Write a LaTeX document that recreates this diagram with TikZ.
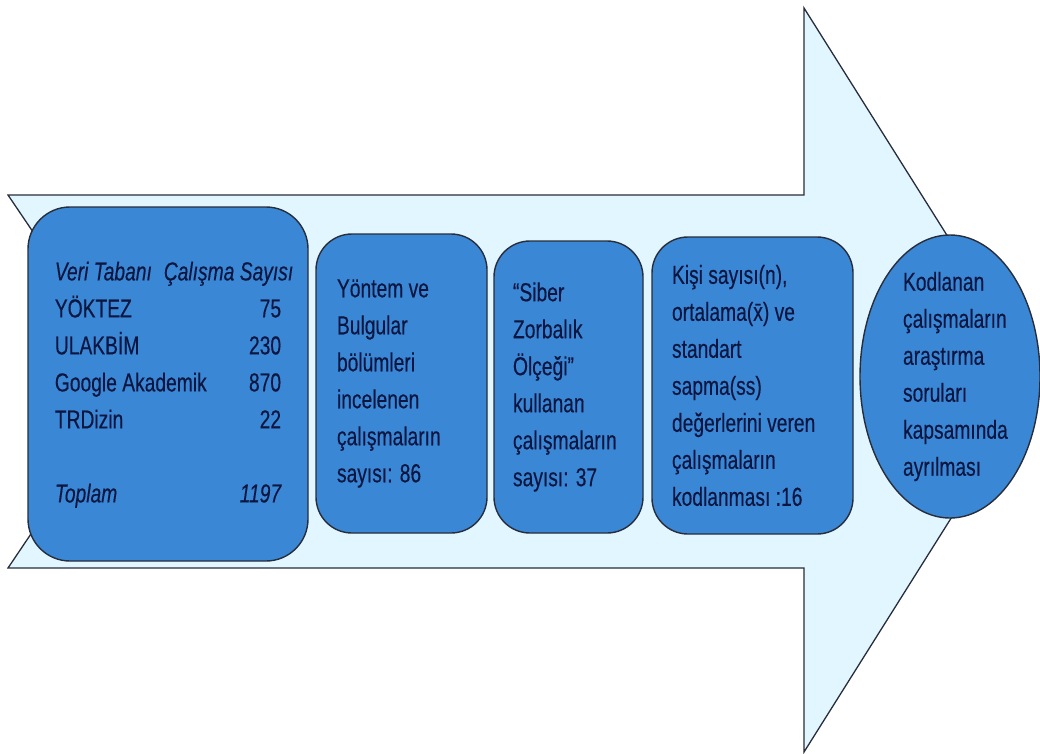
\documentclass[tikz,border=0pt]{standalone}
\usepackage{fontspec}
\setmainfont{Liberation Sans}[FakeStretch=0.74,FakeBold=0.3]
\usepackage{tikz}
\usetikzlibrary{shapes.geometric}
\definecolor{arrowfill}{RGB}{225,246,255}
\definecolor{boxfill}{RGB}{58,135,214}
\definecolor{boxtext}{RGB}{12,22,64}
\definecolor{edge}{RGB}{40,45,60}
\tikzset{
  stagetext/.style={text=boxtext,align=flush left,font=\fontsize{26}{37}\selectfont},
  stage/.style={stagetext,draw=edge,line width=1.4pt,fill=boxfill},
  stagebox/.style={stage,rounded corners=36pt},
}

\begin{document}
\begin{tikzpicture}[x=1pt,y=-1pt]
\useasboundingbox (0,0) rectangle (1040,753);
% big arrow behind the stages
\draw[draw=edge,line width=1.3pt,fill=arrowfill] (8,195) -- (804,195) -- (804,8) -- (1038,380)
  -- (804,752) -- (804,568) -- (8,568) -- (134,381) -- cycle;

\node (DB) [stagebox,rounded corners=42pt,minimum width=280pt,minimum height=354pt] at (168,384) {%
  \begin{tabular}{@{}l@{\hspace{33pt}}r@{}}
  \multicolumn{2}{@{}l@{}}{\makebox[0pt][l]{\itshape Veri Tabanı\hspace{12pt}Çalışma Sayısı}}\\
  YÖKTEZ & 75\\
  ULAKBİM & 230\\
  Google Akademik & 870\\
  TRDizin & 22\\
  & \\
  \itshape Toplam & \itshape 1197
  \end{tabular}};
\node (YB) [stagebox,text width=129pt,minimum width=171pt,minimum height=299pt] at (401.5,383.5)
  {Yöntem ve\\Bulgular\\bölümleri\\incelenen\\çalışmaların\\sayısı: 86};
\node (SZ) [stagebox,text width=111pt,minimum width=149pt,minimum height=292pt] at (568.5,387)
  {“Siber\\Zorbalık\\Ölçeği”\\kullanan\\çalışmaların\\sayısı: 37};
\node (KS) [stagebox,text width=161pt,minimum width=201pt,minimum height=297pt] at (752.5,385.5)
  {Kişi sayısı(n),\\ortalama(x̄) ve\\standart\\sapma(ss)\\değerlerini veren\\çalışmaların\\kodlanması :16};
\node (KA) [stage,ellipse,minimum width=180pt,minimum height=283pt] at (950,376.5) {};
\node (KAt) [stagetext,text width=94pt] at (KA.center)
  {Kodlanan\\çalışmaların\\araştırma\\soruları\\kapsamında\\ayrılması};
\end{tikzpicture}
\end{document}
